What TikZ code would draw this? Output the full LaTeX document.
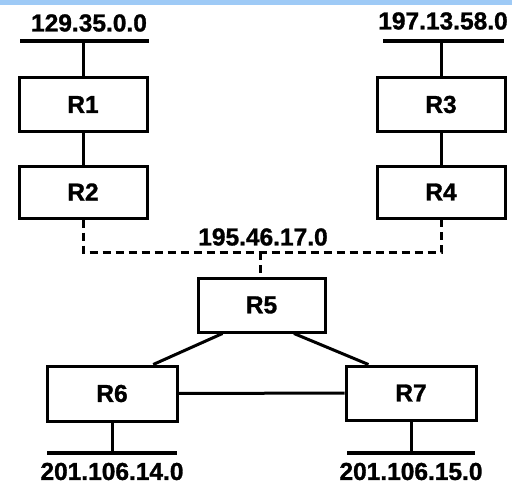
\documentclass[tikz,border=0pt]{standalone}
\usepackage{fontspec}
\setmainfont{Liberation Sans}
\newfontfamily\heavyfont{Liberation Sans Bold}[FakeBold=1.2]
\usetikzlibrary{calc}
\definecolor{topband}{RGB}{158,202,246}
\begin{document}
\begin{tikzpicture}[x=1pt,y=-1pt,
  router/.style={draw,line width=3pt,minimum width=128pt,minimum height=54pt,
    inner sep=0pt,font=\fontsize{24.5}{28}\selectfont\heavyfont},
  wire/.style={line width=3pt},
  net/.style={line width=3.2pt},
  buswire/.style={line width=3pt,dash pattern=on 8pt off 5pt},
  addr/.style={inner sep=0pt,font=\fontsize{24.5}{28}\selectfont\heavyfont}]
  \useasboundingbox (0,0) rectangle (512,485);
  \fill[white] (0,0) rectangle (512,485);
  \fill[topband] (0,0) rectangle (512,5);

  % routers
  \node[router] (R1) at (83,104.5) {R1};
  \node[router,minimum height=52pt] (R2) at (83,192) {R2};
  \node[router] (R3) at (441,104.5) {R3};
  \node[router,minimum height=52pt] (R4) at (441,192) {R4};
  \node[router,minimum width=127pt] (R5) at (261.5,305) {R5};
  \node[router,minimum width=130pt,minimum height=55pt] (R6) at (112,393.5) {R6};
  \node[router,minimum width=130pt] (R7) at (411,393) {R7};

  % network segments
  \coordinate (n1) at (83,41);
  \coordinate (n3) at (441,41);
  \coordinate (n6) at (112,453);
  \coordinate (n7) at (411,453);
  \draw[net] (20,41) -- (149,41);
  \draw[net] (383,41) -- (504,41);
  \draw[net] (47,453) -- (177,453);
  \draw[net] (347,453) -- (475,453);

  \node[addr] (a1) at (89,23) {129.35.0.0};
  \node[addr] (a3) at (443,21) {197.13.58.0};
  \node[addr] (a6) at (112,471.5) {201.106.14.0};
  \node[addr] (a7) at (411,471.5) {201.106.15.0};
  \node[addr] (a5) at (263,237) {195.46.17.0};

  % links
  \draw[wire] (n1) -- (R1);
  \draw[wire] (R1) -- (R2);
  \draw[wire] (n3) -- (R3);
  \draw[wire] (R3) -- (R4);
  \draw[wire] (R6) -- (n6);
  \draw[wire] (R7) -- (n7);
  \draw[wire] (R6) -- (R7);
  \draw[wire] ($(R5.south west)!0.2!(R5.south east)$) -- ($(R6.north west)!0.81!(R6.north east)$);
  \draw[wire] ($(R5.south west)!0.75!(R5.south east)$) -- ($(R7.north west)!0.18!(R7.north east)$);

  % shared segment 195.46.17.0
  \coordinate (bus) at (260,252);
  \draw[buswire] (R2.south) |- (bus) -| (R4.south);
  \draw[buswire] (bus) -- (R5.north -| bus);
\end{tikzpicture}
\end{document}
